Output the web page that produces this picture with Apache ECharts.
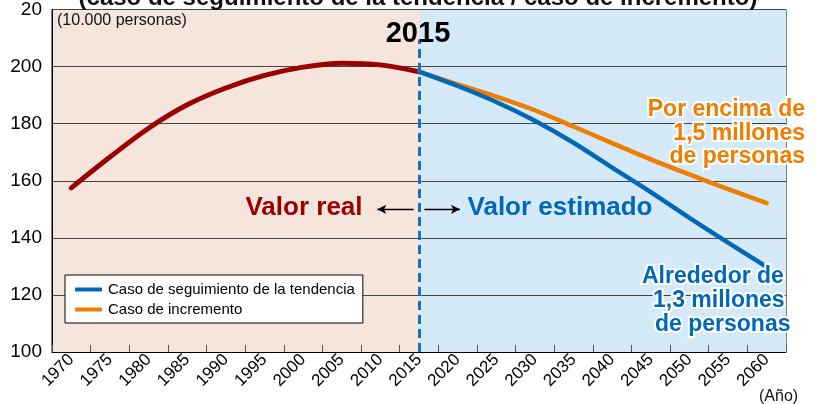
<!DOCTYPE html>
<html>
<head>
<meta charset="utf-8">
<script src="https://cdn.jsdelivr.net/npm/echarts@6/dist/echarts.min.js"></script>
<style>
html,body{margin:0;padding:0;background:#fff;}
#chart{width:816px;height:404px;}
</style>
</head>
<body>
<div id="chart"></div>
<script>
// datos
var realYears = [1970, 1975, 1980, 1985, 1990, 1995, 2000, 2005, 2010, 2015];
var realValues = [157.5, 168.3, 178.4, 186.6, 192.5, 196.9, 199.8, 201.2, 200.6, 198.2];
var projYears = [2015, 2020, 2025, 2030, 2035, 2040, 2045, 2050, 2055, 2060];
var trendValues = [198.2, 193.2, 187.6, 181.0, 173.3, 164.6, 156.0, 147.0, 138.3, 129.8];
var incrementValues = [198.2, 193.8, 189.5, 184.7, 179.0, 173.2, 167.5, 162.2, 157.1, 152.2];
var yearLabels = [1970, 1975, 1980, 1985, 1990, 1995, 2000, 2005, 2010, 2015, 2020, 2025, 2030, 2035, 2040, 2045, 2050, 2055, 2060];
var seriesNames = ['Caso de seguimiento de la tendencia', 'Caso de incremento'];
var splitYear = 2015;

var font = '"Liberation Sans", Arial, sans-serif';

function pairs(xs, ys){
    var out = [];
    for (var i = 0; i < xs.length; i++) { out.push([xs[i], ys[i]]); }
    return out;
}
// ticks between the labelled years
var tickYears = yearLabels.map(function(y){ return y - 2.5; });
tickYears.push(yearLabels[yearLabels.length - 1] + 2.5);
var xMin = tickYears[0], xMax = tickYears[tickYears.length - 1];

var chart = echarts.init(document.getElementById('chart'));
var option = {
    animation: false,
    backgroundColor: '#fff',
    textStyle: {fontFamily: font},
    grid: {left: 52, right: 30, top: 8, bottom: 52, show: true, borderColor: '#000', borderWidth: 1},
    legend: {
        data: [{name: seriesNames[0], icon: 'roundRect'}, {name: seriesNames[1], icon: 'roundRect'}],
        orient: 'vertical',
        left: 65, top: 275,
        padding: [7, 8, 6, 10],
        itemGap: 5,
        itemWidth: 27, itemHeight: 4,
        backgroundColor: '#fff',
        borderColor: '#000', borderWidth: 1,
        selectedMode: false,
        textStyle: {fontSize: 15, color: '#000', fontFamily: font, lineHeight: 15, padding: [0, 0, 0, 1]}
    },
    xAxis: {
        type: 'value', min: xMin, max: xMax, z: 1.5,
        axisLine: {lineStyle: {color: '#000', width: 1}},
        axisTick: {inside: true, length: 7, lineStyle: {color: '#555'}, customValues: tickYears},
        axisLabel: {customValues: yearLabels, rotate: 45, fontSize: 17, color: '#000', margin: 5,
            formatter: function(v){ return String(Math.round(v)); }},
        splitLine: {show: false}
    },
    yAxis: {
        type: 'value', min: 100, max: 220, interval: 20, z: 1.5,
        axisLine: {show: true, lineStyle: {color: '#000', width: 1}},
        axisTick: {show: false},
        axisLabel: {fontSize: 19, color: '#000', margin: 10,
            formatter: function(v){ return v === 220 ? '20' : String(v); }},
        splitLine: {lineStyle: {color: '#444', width: 1}}
    },
    series: [
        {   // fondo real / estimado
            name: 'fondo', type: 'line', data: [], z: 1, silent: true,
            markArea: {
                silent: true,
                data: [
                    [{xAxis: xMin, itemStyle: {color: '#F5E5DC'}}, {xAxis: splitYear}],
                    [{xAxis: splitYear, itemStyle: {color: '#D4EAF8'}}, {xAxis: xMax}]
                ]
            }
        },
        {
            name: 'Valor real', type: 'line', data: pairs(realYears, realValues),
            smooth: 0.35, symbol: 'none', z: 3,
            lineStyle: {color: '#9A0000', width: 5, cap: 'round'}
        },
        {
            name: seriesNames[1], type: 'line', data: pairs(projYears, incrementValues),
            smooth: 0.3, symbol: 'none', z: 3,
            itemStyle: {color: '#EE7D00'},
            lineStyle: {color: '#EE7D00', width: 4.5, cap: 'round'},
            markLine: {
                silent: true, symbol: ['none', 'arrow'], symbolSize: [7, 9],
                label: {show: false},
                lineStyle: {color: '#000', width: 1.3, type: 'solid'},
                data: [
                    [{coord: [2014.3, 150]}, {coord: [2009.6, 150]}],
                    [{coord: [2015.7, 150]}, {coord: [2020.3, 150]}]
                ]
            }
        },
        {
            name: seriesNames[0], type: 'line', data: pairs(projYears, trendValues),
            smooth: 0.3, symbol: 'none', z: 4,
            itemStyle: {color: '#0068B7'},
            lineStyle: {color: '#0068B7', width: 4.5, cap: 'round'},
            markLine: {
                silent: true, symbol: 'none',
                label: {show: false},
                lineStyle: {color: '#1F6FC0', width: 3, type: [9, 5]},
                data: [
                    [{coord: [splitYear, 100]}, {coord: [splitYear, 209.5]}]
                ]
            }
        }
    ],
    graphic: [
        {type: 'text', x: 418, y: -2, z: 10, style: {text: '(caso de seguimiento de la tendencia / caso de incremento)',
            font: 'bold 24px ' + font, fill: '#111', align: 'center', verticalAlign: 'middle'}},
        {type: 'text', x: 57, y: 21, z: 10, style: {text: '(10.000 personas)',
            font: '16px ' + font, fill: '#111', align: 'left', verticalAlign: 'middle'}},
        {type: 'text', x: 418, y: 34, z: 10, style: {text: '2015',
            font: 'bold 29px ' + font, fill: '#000', align: 'center', verticalAlign: 'middle'}},
        {type: 'text', x: 304, y: 208, z: 10, style: {text: 'Valor real',
            font: 'bold 26px ' + font, fill: '#9A0000', align: 'center', verticalAlign: 'middle'}},
        {type: 'text', x: 560, y: 208, z: 10, style: {text: 'Valor estimado',
            font: 'bold 26px ' + font, fill: '#0068B7', align: 'center', verticalAlign: 'middle'}},
        {type: 'text', x: 805, y: 98, z: 10, style: {text: 'Por encima de\n1,5 millones\nde personas',
            font: 'bold 23px ' + font, lineHeight: 23.5, fill: '#EE7D00', align: 'right', verticalAlign: 'top',
            stroke: '#fff', lineWidth: 4}},
        {type: 'text', x: 642, y: 277, z: 10, style: {text: 'Alrededor de',
            font: 'bold 23px ' + font, fill: '#0068B7', align: 'left', verticalAlign: 'middle', stroke: '#fff', lineWidth: 4}},
        {type: 'text', x: 653, y: 301, z: 10, style: {text: '1,3 millones',
            font: 'bold 23px ' + font, fill: '#0068B7', align: 'left', verticalAlign: 'middle', stroke: '#fff', lineWidth: 4}},
        {type: 'text', x: 655, y: 325, z: 10, style: {text: 'de personas',
            font: 'bold 23px ' + font, fill: '#0068B7', align: 'left', verticalAlign: 'middle', stroke: '#fff', lineWidth: 4}},
        {type: 'text', x: 759, y: 397, z: 10, style: {text: '(Año)',
            font: '16px ' + font, fill: '#111', align: 'left', verticalAlign: 'middle'}}
    ]
};
chart.setOption(option);
</script>
</body>
</html>
